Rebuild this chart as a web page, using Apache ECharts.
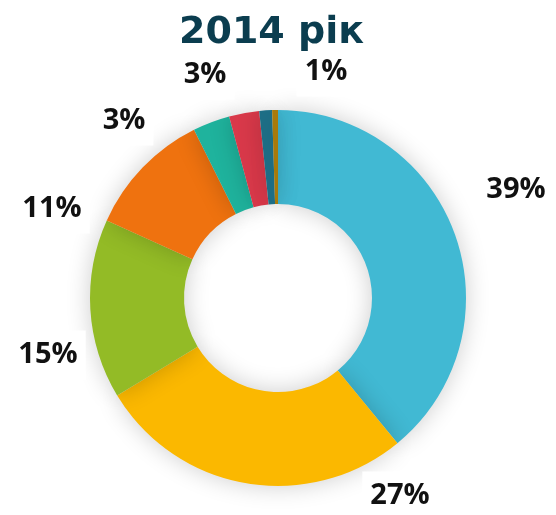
<!DOCTYPE html>
<html>
<head>
<meta charset="utf-8">
<script src="https://cdn.jsdelivr.net/npm/echarts@6/dist/echarts.min.js"></script>
<style>
html,body{margin:0;padding:0;background:#fff;}
#chart{width:556px;height:515px;}
</style>
</head>
<body>
<div id="chart"></div>
<script>
var titleText = '2014 рік';
var categories = ['A', 'B', 'C', 'D', 'E', 'F', 'G', 'H'];
var values = [39.2, 27.4, 15.5, 10.9, 3.2, 2.6, 1.1, 0.5];
var labels = ['39%', '27%', '15%', '11%', '3%', '3%', '1%', ''];
var colors = ['#41b9d3', '#fbb800', '#93bb26', '#ef720f', '#1fb39d', '#d9394a', '#1e7088', '#a87a0a'];
// label anchor positions (layout only)
var labelPos = [[516, 190], [400, 496], [48, 355], [52, 209], [124, 121], [205, 75], [326, 72], [0, 0]];

var chart = echarts.init(document.getElementById('chart'));
chart.setOption({
  animation: false,
  title: {
    text: titleText,
    left: 174,
    top: 9,
    textStyle: { fontFamily: 'DejaVu Sans', fontWeight: 'bold', fontSize: 38, color: '#0b3d4f' }
  },
  series: [{
    type: 'pie',
    center: [278, 298],
    radius: [94, 188],
    startAngle: 90,
    clockwise: true,
    avoidLabelOverlap: false,
    itemStyle: { shadowBlur: 24, shadowColor: 'rgba(0,0,0,0.2)' },
    label: {
      show: true,
      position: 'outside',
      formatter: function (p) { return labels[p.dataIndex]; },
      fontFamily: 'Open Sans',
      fontWeight: 'bold',
      fontSize: 29,
      color: '#111',
      backgroundColor: '#fff',
      padding: [10, 8]
    },
    labelLine: { show: false },
    labelLayout: function (p) {
      var pos = labelPos[p.dataIndex];
      return { x: pos[0], y: pos[1], align: 'center', verticalAlign: 'middle' };
    },
    emphasis: { disabled: true },
    data: categories.map(function (c, i) {
      return { name: c, value: values[i], itemStyle: { color: colors[i] } };
    })
  }]
});
</script>
</body>
</html>
